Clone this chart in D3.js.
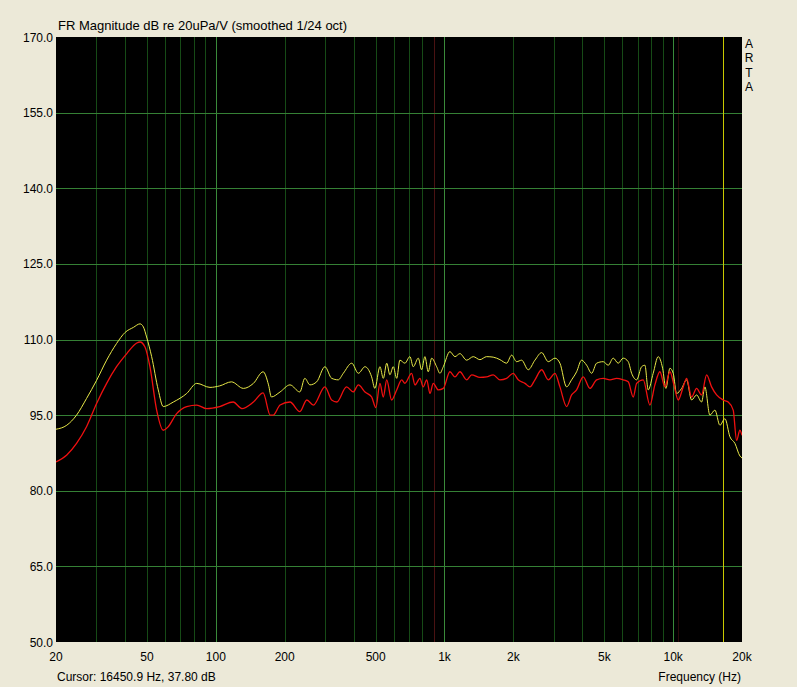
<!DOCTYPE html>
<html>
<head>
<meta charset="utf-8">
<script src="https://cdn.jsdelivr.net/npm/d3@7"></script>
<style>
  html, body { margin: 0; padding: 0; background: #ece9d8; }
  svg { display: block; }
  text { font-family: "Liberation Sans", Arial, sans-serif; font-size: 12px; fill: #000; }
</style>
</head>
<body>
<svg id="chart" width="797" height="687"></svg>
<script>
// ---------- data ----------
const title = "FR Magnitude dB re 20uPa/V (smoothed 1/24 oct)";
const cursorText = "Cursor: 16450.9 Hz, 37.80 dB";
const xAxisTitle = "Frequency (Hz)";
const brand = ["A", "R", "T", "A"];
const yTicks = [50, 65, 80, 95, 110, 125, 140, 155, 170];
const xTickValues = [20, 50, 100, 200, 500, 1000, 2000, 5000, 10000, 20000];
const xTickLabels = ["20", "50", "100", "200", "500", "1k", "2k", "5k", "10k", "20k"];
const cursorFreq = 16450.9;
const markerFreqs = [900, 10500];

const yellowFreq = [20, 22.3, 24.6, 27.2, 30.1, 33.3, 36.8, 40.1, 43.6, 46.6, 48.2, 49.8, 52.4, 56.0, 58.9, 65.2, 74.6, 82.5, 94.3, 104, 117, 132, 146, 161, 170, 175, 191, 211, 233, 245, 258, 276, 300, 321, 343, 361, 393, 420, 449, 480, 496, 522, 540, 559, 577, 597, 618, 638, 671, 706, 730, 768, 794, 821, 849, 879, 924, 955, 988, 1056, 1111, 1168, 1250, 1336, 1429, 1528, 1633, 1748, 1869, 1966, 2067, 2174, 2324, 2486, 2660, 2843, 3041, 3197, 3420, 3596, 3782, 3977, 4183, 4399, 4626, 4945, 5200, 5468, 5749, 6046, 6359, 6582, 6923, 7278, 7524, 7778, 8179, 8602, 8991, 9296, 9680, 10006, 10351, 10888, 11449, 12038, 12661, 13314, 13764, 14474, 15224, 16012, 16840, 17710, 18622, 19582, 20000];
const yellowDb = [92.2, 93.0, 95.0, 98.3, 101.9, 105.9, 109.2, 111.4, 112.4, 113.1, 112.5, 110.5, 106.6, 100.0, 96.7, 97.6, 99.3, 101.3, 100.5, 100.8, 101.6, 100.3, 101.3, 103.6, 101.0, 98.6, 99.6, 101.0, 99.6, 102.3, 101.0, 101.6, 104.6, 102.3, 102.0, 103.3, 105.3, 103.3, 104.6, 102.6, 100.3, 104.6, 102.3, 105.3, 103.0, 104.6, 102.3, 105.9, 105.3, 106.6, 104.6, 106.3, 104.0, 106.6, 103.6, 106.3, 104.6, 103.3, 104.6, 107.6, 106.6, 107.2, 105.9, 106.6, 106.0, 106.6, 106.5, 106.0, 105.3, 106.9, 105.6, 105.9, 104.0, 105.9, 107.4, 105.6, 106.3, 105.3, 100.6, 102.0, 103.6, 105.9, 104.9, 103.3, 105.3, 105.6, 104.9, 106.3, 105.3, 106.3, 105.6, 103.3, 102.0, 104.6, 104.9, 100.0, 103.3, 106.6, 104.3, 100.3, 104.3, 103.3, 99.3, 100.3, 102.0, 98.0, 99.0, 97.6, 100.6, 95.0, 96.0, 93.0, 94.3, 90.7, 89.4, 86.9, 86.5];

const redFreq = [20, 22.3, 24.6, 27.2, 30.1, 33.3, 36.8, 40.8, 45.1, 46.6, 49.0, 51.5, 55.1, 58.9, 61.9, 67.4, 74.6, 82.5, 91.2, 104, 119, 130, 146, 161, 173, 178, 191, 211, 233, 250, 267, 300, 321, 338, 373, 399, 420, 449, 480, 501, 522, 540, 559, 587, 618, 650, 671, 718, 743, 781, 807, 836, 864, 893, 939, 988, 1056, 1111, 1168, 1250, 1315, 1429, 1528, 1633, 1748, 1869, 1998, 2101, 2248, 2364, 2486, 2660, 2843, 3041, 3197, 3420, 3596, 3782, 4041, 4324, 4626, 4945, 5290, 5657, 6046, 6359, 6690, 6923, 7396, 7912, 8320, 8750, 9203, 9680, 10075, 10520, 11066, 11449, 12038, 12661, 13314, 14002, 14726, 15487, 16552, 17408, 18306, 18942, 19582, 20000];
const redDb = [85.7, 87.1, 89.4, 92.7, 97.3, 101.3, 104.6, 107.2, 109.3, 109.5, 108.5, 104.6, 96.0, 92.0, 92.7, 95.3, 96.7, 97.0, 96.3, 96.7, 97.6, 96.3, 97.6, 99.4, 95.0, 95.0, 97.0, 97.6, 95.7, 98.0, 97.0, 100.6, 98.0, 97.6, 100.6, 99.6, 101.0, 99.6, 98.6, 96.5, 101.3, 98.6, 102.0, 98.0, 100.0, 102.0, 101.3, 103.3, 101.0, 102.3, 100.6, 102.0, 99.3, 101.3, 100.0, 100.3, 103.6, 102.6, 103.6, 102.0, 103.0, 102.5, 102.6, 103.0, 102.0, 102.3, 103.3, 102.0, 101.3, 100.6, 102.0, 104.0, 102.0, 103.3, 100.6, 96.7, 99.0, 100.0, 102.6, 100.3, 102.0, 102.3, 102.0, 102.3, 102.0, 101.6, 98.6, 101.3, 102.0, 97.0, 101.0, 103.6, 100.6, 103.6, 101.0, 98.0, 100.6, 102.3, 98.6, 100.3, 99.0, 103.0, 100.6, 99.0, 98.0, 97.6, 96.0, 90.0, 92.0, 91.0];

// ---------- layout ----------
const svg = d3.select("#chart");
const plot = { left: 56, top: 37, right: 742, bottom: 642 };

const x = d3.scaleLog().domain([20, 20000]).range([plot.left, plot.right]);
const y = d3.scaleLinear().domain([50, 170]).range([plot.bottom, plot.top]);

// plot background
svg.append("rect")
  .attr("x", plot.left).attr("y", plot.top)
  .attr("width", plot.right - plot.left).attr("height", plot.bottom - plot.top)
  .attr("fill", "#000");

// vertical grid (1-2-3...9 per decade)
const minorFreqs = [];
[10, 100, 1000, 10000].forEach(d => {
  for (let m = 1; m <= 9; m++) {
    const f = d * m;
    if (f > 20 && f < 20000) minorFreqs.push(f);
  }
});
svg.append("g").selectAll("line").data(minorFreqs).join("line")
  .attr("x1", d => Math.round(x(d)) + 0.5).attr("x2", d => Math.round(x(d)) + 0.5)
  .attr("y1", plot.top).attr("y2", plot.bottom)
  .attr("stroke", d => ([100, 1000, 10000].includes(d) ? "#3a8a3a" : "#164a16"))
  .attr("stroke-width", 1);

// marker lines (dark red)
svg.append("g").selectAll("line").data(markerFreqs).join("line")
  .attr("x1", d => Math.round(x(d)) + 0.5).attr("x2", d => Math.round(x(d)) + 0.5)
  .attr("y1", plot.top).attr("y2", plot.bottom)
  .attr("stroke", (d, i) => (i === 0 ? "#4a1212" : "#2a0a0a")).attr("stroke-width", 1);

// horizontal grid
svg.append("g").selectAll("line").data(yTicks.filter(v => v > 50 && v < 170)).join("line")
  .attr("x1", plot.left).attr("x2", plot.right)
  .attr("y1", d => Math.round(y(d)) + 0.5).attr("y2", d => Math.round(y(d)) + 0.5)
  .attr("stroke", "#358035").attr("stroke-width", 1);

// cursor line
svg.append("line")
  .attr("x1", Math.round(x(cursorFreq)) + 0.5).attr("x2", Math.round(x(cursorFreq)) + 0.5)
  .attr("y1", plot.top).attr("y2", plot.bottom)
  .attr("stroke", "#c8c800").attr("stroke-width", 1);

// curves
const line = d3.line().curve(d3.curveMonotoneX)
  .x(d => x(d[0])).y(d => y(d[1]));
svg.append("clipPath").attr("id", "clip").append("rect")
  .attr("x", plot.left).attr("y", plot.top)
  .attr("width", plot.right - plot.left).attr("height", plot.bottom - plot.top);

const yellowData = yellowFreq.map((f, i) => [f, yellowDb[i]]);
const redData = redFreq.map((f, i) => [f, redDb[i]]);

svg.append("path").datum(yellowData)
  .attr("d", line).attr("fill", "none")
  .attr("stroke", "#e8e848").attr("stroke-width", 1)
  .attr("clip-path", "url(#clip)");
svg.append("path").datum(redData)
  .attr("d", line).attr("fill", "none")
  .attr("stroke", "#f01010").attr("stroke-width", 1.3)
  .attr("clip-path", "url(#clip)");

// y tick labels
svg.append("g").selectAll("text").data(yTicks).join("text")
  .attr("x", 53).attr("y", d => y(d) + 4.5)
  .attr("text-anchor", "end")
  .text(d => d.toFixed(1));

// x tick labels
svg.append("g").selectAll("text").data(xTickValues).join("text")
  .attr("x", d => x(d)).attr("y", 661)
  .attr("text-anchor", "middle")
  .text((d, i) => xTickLabels[i]);

// title & footer texts
svg.append("text").attr("x", 58).attr("y", 30).style("font-size", "13px").text(title);
svg.append("text").attr("x", 57).attr("y", 681).text(cursorText);
svg.append("text").attr("x", 741).attr("y", 681).attr("text-anchor", "end").text(xAxisTitle);

// vertical ARTA
svg.append("g").selectAll("text").data(brand).join("text")
  .attr("x", 749).attr("y", (d, i) => 48 + i * 14.4)
  .attr("text-anchor", "middle")
  .text(d => d);
</script>
</body>
</html>
